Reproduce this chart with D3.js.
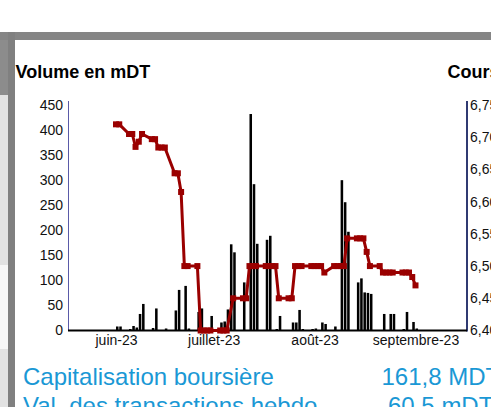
<!DOCTYPE html>
<html>
<head>
<meta charset="utf-8">
<script src="https://cdn.jsdelivr.net/npm/d3@7"></script>
<style>
  body { margin: 0; background: #fff; }
  svg text { font-family: "Liberation Sans", Arial, sans-serif; }
</style>
</head>
<body>
<svg id="chart" width="491" height="407"></svg>
<script>
// cours (DT), one point per trading day
var priceDates = ["2023-06-01","2023-06-02","2023-06-05","2023-06-06","2023-06-07","2023-06-08","2023-06-09",
  "2023-06-12","2023-06-13","2023-06-14","2023-06-15","2023-06-16","2023-06-19","2023-06-20","2023-06-21",
  "2023-06-22","2023-06-23","2023-06-26","2023-06-27","2023-06-28","2023-06-29","2023-06-30","2023-07-03",
  "2023-07-04","2023-07-05","2023-07-07","2023-07-10","2023-07-11","2023-07-12","2023-07-13","2023-07-14",
  "2023-07-17","2023-07-18","2023-07-19","2023-07-20","2023-07-21","2023-07-24","2023-07-25","2023-07-26",
  "2023-07-27","2023-07-28","2023-07-31","2023-08-01","2023-08-02","2023-08-03","2023-08-04","2023-08-07",
  "2023-08-08","2023-08-09","2023-08-10","2023-08-11","2023-08-14","2023-08-15","2023-08-16","2023-08-17",
  "2023-08-18","2023-08-21","2023-08-22","2023-08-23","2023-08-24","2023-08-25","2023-08-28","2023-08-29",
  "2023-08-30","2023-08-31","2023-09-01"];
var priceValues = [6.72,6.72,6.705,6.705,6.685,6.693,6.705,
  6.697,6.697,6.684,6.684,6.684,6.644,6.644,6.615,
  6.50,6.50,6.50,6.40,6.40,6.40,6.40,6.40,
  6.40,6.40,6.45,6.45,6.45,6.50,6.50,6.50,
  6.50,6.50,6.50,6.50,6.45,6.45,6.45,6.50,
  6.50,6.50,6.50,6.50,6.50,6.50,6.49,6.50,
  6.50,6.50,6.50,6.543,6.543,6.543,6.543,6.522,
  6.50,6.50,6.49,6.49,6.49,6.49,6.49,6.49,
  6.49,6.483,6.47];

// volume (mDT)
var volDates = ["2023-06-01","2023-06-02","2023-06-05","2023-06-06","2023-06-07","2023-06-08","2023-06-09",
  "2023-06-12","2023-06-13","2023-06-16","2023-06-19","2023-06-20","2023-06-22","2023-06-23","2023-06-26",
  "2023-06-27","2023-06-30","2023-07-03","2023-07-04","2023-07-05","2023-07-06","2023-07-07","2023-07-10",
  "2023-07-12","2023-07-13","2023-07-14","2023-07-17","2023-07-18","2023-07-20","2023-07-21","2023-07-25",
  "2023-07-26","2023-07-27","2023-07-28","2023-07-31","2023-08-01","2023-08-03","2023-08-04","2023-08-07",
  "2023-08-09","2023-08-10","2023-08-11","2023-08-14","2023-08-15","2023-08-16","2023-08-17","2023-08-18",
  "2023-08-22","2023-08-24","2023-08-25","2023-08-28","2023-08-29","2023-08-31","2023-09-01"];
var volValues = [8,8,3,9,6,33,53,
  5,44,4,40,81,89,4,37,
  44,29,16,18,42,172,156,96,
  432,292,173,181,189,3,29,16,
  16,41,3,3,4,16,13,8,
  300,256,197,96,104,76,75,73,
  33,33,33,3,37,17,4];

var monthTicks = ["2023-06-01","2023-07-01","2023-08-01","2023-09-01"];
var monthLabels = ["juin-23","juillet-23","août-23","septembre-23"];
var volTicks = [0,50,100,150,200,250,300,350,400,450];
var priceTicks = [6.40,6.45,6.50,6.55,6.60,6.65,6.70,6.75];

var parse = d3.timeParse("%Y-%m-%d");
var svg = d3.select("#chart");

// page frame
svg.append("rect").attr("x",0).attr("y",0).attr("width",491).attr("height",407).attr("fill","#fff");
svg.append("rect").attr("x",0).attr("y",32).attr("width",491).attr("height",8).attr("fill","#858585");
svg.append("rect").attr("x",0).attr("y",40).attr("width",8).attr("height",55).attr("fill","#8c8c8c");
svg.append("rect").attr("x",0).attr("y",95).attr("width",8).attr("height",170).attr("fill","#e2e2e2");
svg.append("rect").attr("x",0).attr("y",265).attr("width",8).attr("height",84).attr("fill","#f7f7f7");
svg.append("rect").attr("x",0).attr("y",349).attr("width",8).attr("height",58).attr("fill","#e2e2e2");
svg.append("rect").attr("x",8).attr("y",32).attr("width",7).attr("height",375).attr("fill","#808080");

var plotL = 68, plotR = 466, plotT = 105, plotB = 330.5;

var x = d3.scaleTime()
  .domain([parse(monthTicks[0]), parse(monthTicks[3])])
  .range([116, 415.5]);
x.domain([x.invert(plotL), x.invert(plotR)]).range([plotL, plotR]);

var yVol = d3.scaleLinear().domain([0, 450]).range([plotB, plotT]);
var yPx = d3.scaleLinear().domain([6.40, 6.75]).range([plotB, plotT]);

var fr = d3.formatLocale({decimal: ",", thousands: " ", grouping: [3], currency: ["", " DT"]});

// titles
svg.append("text").attr("x",15.5).attr("y",78).attr("font-size",18).attr("font-weight","bold")
  .attr("fill","#000").text("Volume en mDT");
svg.append("text").attr("x",447.5).attr("y",78).attr("font-size",18).attr("font-weight","bold")
  .attr("fill","#000").text("Cours");

// bars
var dayW = x(parse("2023-06-02")) - x(parse("2023-06-01"));
var bw = dayW * 0.78;
svg.append("g").selectAll("rect")
  .data(volDates.map(function(d, i) { return {date: parse(d), v: volValues[i]}; }))
  .join("rect")
  .attr("x", function(d) { return x(d.date); })
  .attr("y", function(d) { return yVol(d.v); })
  .attr("width", bw)
  .attr("height", function(d) { return plotB - yVol(d.v); })
  .attr("fill", "#000");

// axes
var gl = svg.append("g").attr("transform","translate(" + plotL + ",0)")
  .call(d3.axisLeft(yVol).tickValues(volTicks).tickSize(0).tickPadding(5));
var gr = svg.append("g").attr("transform","translate(" + plotR + ",0)")
  .call(d3.axisRight(yPx).tickValues(priceTicks).tickSize(0).tickPadding(4).tickFormat(fr.format(".2f")));
var gb = svg.append("g").attr("transform","translate(0," + plotB + ")")
  .call(d3.axisBottom(x).tickValues(monthTicks.map(parse)).tickSize(0).tickPadding(5)
    .tickFormat(function(d, i) { return monthLabels[i]; }));
[gl, gr, gb].forEach(function(g) {
  g.select(".domain").remove();
  g.selectAll("text").attr("font-size", 14).attr("fill", "#111")
    .style("font-family", "'Liberation Sans', Arial, sans-serif");
});

svg.append("line").attr("x1",plotL+0.5).attr("x2",plotL+0.5).attr("y1",101).attr("y2",plotB)
  .attr("stroke","#5a5aa8").attr("stroke-width",1);
svg.append("line").attr("x1",plotR+1).attr("x2",plotR+1).attr("y1",101).attr("y2",plotB+1)
  .attr("stroke","#303a72").attr("stroke-width",2);
svg.append("line").attr("x1",plotL).attr("x2",plotR+1).attr("y1",plotB).attr("y2",plotB)
  .attr("stroke","#000").attr("stroke-width",2);

// price line
var pts = priceDates.map(function(d, i) { return {date: parse(d), v: priceValues[i]}; });
svg.append("path").datum(pts)
  .attr("fill","none").attr("stroke","#9a0000").attr("stroke-width",3).attr("stroke-linejoin","round")
  .attr("d", d3.line().x(function(d) { return x(d.date); }).y(function(d) { return yPx(d.v); }));
svg.append("g").selectAll("rect").data(pts).join("rect")
  .attr("x", function(d) { return x(d.date) - 3; })
  .attr("y", function(d) { return yPx(d.v) - 3; })
  .attr("width", 6).attr("height", 6).attr("fill", "#9a0000");

// key figures
var blue = "#1a98d5";
svg.append("text").attr("x",23).attr("y",385).attr("font-size",24).attr("fill",blue).text("Capitalisation boursière");
svg.append("text").attr("x",381.5).attr("y",385).attr("font-size",24).attr("fill",blue).text("161,8 MDT");
svg.append("text").attr("x",23).attr("y",414).attr("font-size",24).attr("fill",blue).text("Val. des transactions hebdo");
svg.append("text").attr("x",388).attr("y",414).attr("font-size",24).attr("fill",blue).text("60,5 mDT");
</script>
</body>
</html>
